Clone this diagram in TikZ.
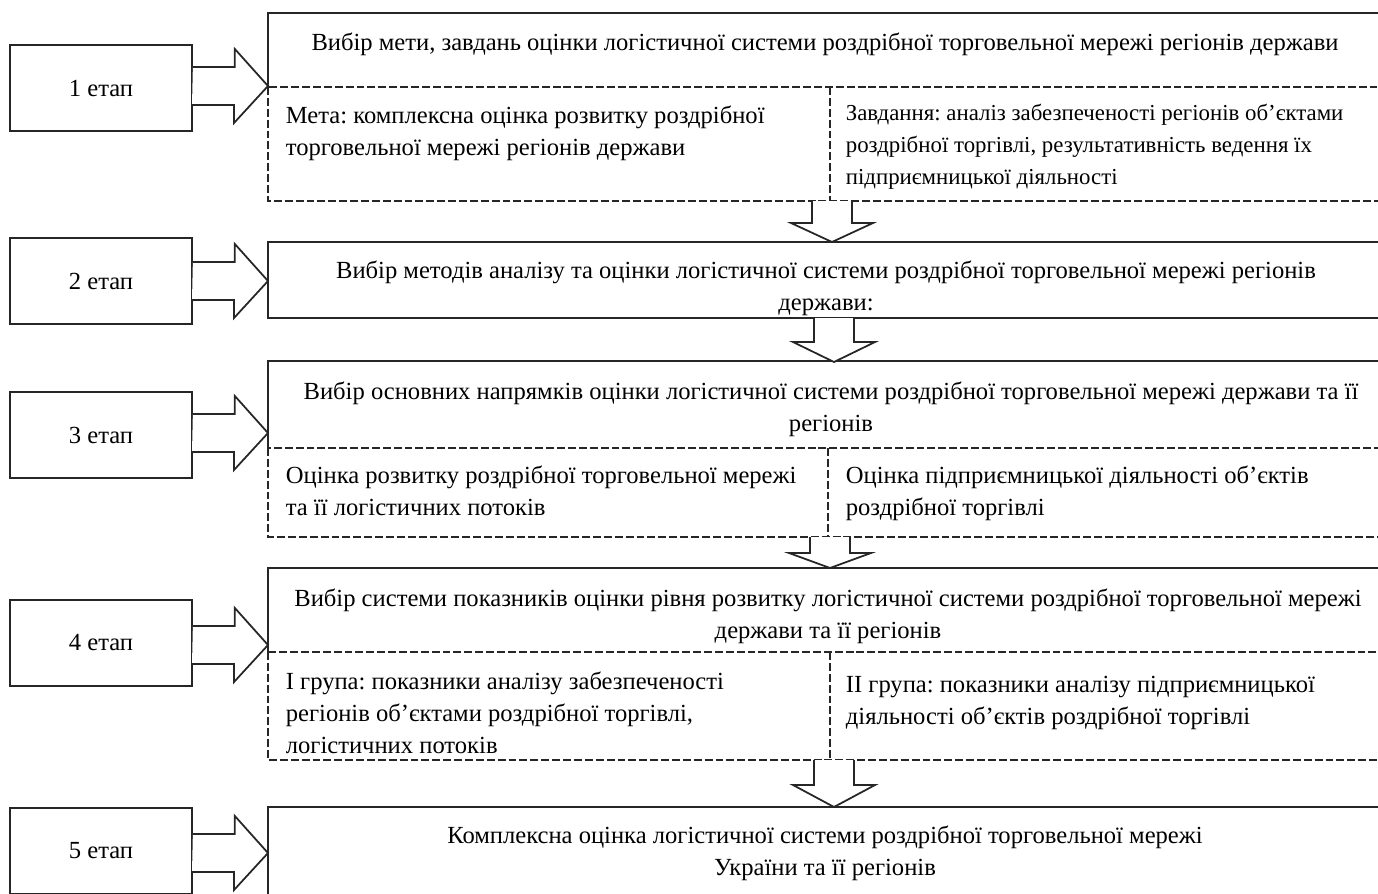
\documentclass[tikz,border=0pt]{standalone}
\usepackage{fontspec}
\setmainfont{Liberation Serif}
\usetikzlibrary{calc}
\frenchspacing

\begin{document}
\begin{tikzpicture}[x=0.02cm,y=-0.02cm,line width=1pt,draw=black!85,
  font=\fontsize{14}{18.2}\selectfont]
\tikzstyle{stage}=[draw,minimum width=3.64cm,minimum height=1.72cm,inner sep=0pt]
\tikzstyle{head}=[align=center,anchor=base,inner sep=0pt]
\tikzstyle{part}=[align=left,anchor=base west,inner sep=0pt]
\tikzstyle{cut}=[dash pattern=on 4.5pt off 1.7pt,line width=0.8pt]
\tikzstyle{block}=[fill=white,line join=miter]

\useasboundingbox (0,0) rectangle (1378,893);
\clip (0,0) rectangle (1378,893);

% stages
\node[stage] (S_1) at (101,88) {1 етап};
\node[stage] (S_2) at (101,281) {2 етап};
\node[stage] (S_3) at (101,435) {3 етап};
\node[stage] (S_4) at (101,643) {4 етап};
\node[stage] (S_5) at (101,851) {5 етап};

% 1 (base = last line)
\draw (268,87) -- (268,13) -- (1395,13) -- (1395,87);
\draw[cut] (268,87) rectangle (1395,201);
\draw[cut] (830,87) -- (830,201);
\node[head] (T_1) at (825,50) {Вибір мети, завдань оцінки логістичної системи роздрібної торговельної мережі регіонів держави};
\node[part] (M_1) at (285,155) {Мета: комплексна оцінка розвитку роздрібної\\торговельної мережі регіонів держави};
\node[part,font=\fontsize{13}{18.2}\selectfont] (Z_1) at (845,184) {Завдання: аналіз забезпеченості регіонів об’єктами\\роздрібної торгівлі, результативність ведення їх\\підприємницької діяльності};

% 2
\draw (268,242) rectangle (1395,318);
\node[head] (T_2) at (826,310) {Вибір методів аналізу та оцінки логістичної системи роздрібної торговельної мережі регіонів\\держави:};

% 3
\draw (268,448) -- (268,361) -- (1395,361) -- (1395,448);
\draw[cut] (268,448) rectangle (1395,537);
\draw[cut] (828,448) -- (828,537);
\node[head] (T_3) at (831,431) {Вибір основних напрямків оцінки логістичної системи роздрібної торговельної мережі держави та її\\регіонів};
\node[part] (L_3) at (285,515) {Оцінка розвитку роздрібної торговельної мережі\\та її логістичних потоків};
\node[part] (R_3) at (845,515) {Оцінка підприємницької діяльності об’єктів\\роздрібної торгівлі};

% 4
\draw (268,652) -- (268,568) -- (1395,568) -- (1395,652);
\draw[cut] (268,652) rectangle (1395,760);
\draw[cut] (830,652) -- (830,760);
\node[head] (T_4) at (828,638) {Вибір системи показників оцінки рівня розвитку логістичної системи роздрібної торговельної мережі\\держави та її регіонів};
\node[part] (L_4) at (285,753) {І група: показники аналізу забезпеченості\\регіонів об’єктами роздрібної торгівлі,\\логістичних потоків};
\node[part] (R_4) at (845,724) {ІІ група: показники аналізу підприємницької\\діяльності об’єктів роздрібної торгівлі};

% 5
\draw (268,807) rectangle (1395,900);
\node[head] (T_5) at (825,875) {Комплексна оцінка логістичної системи роздрібної торговельної мережі\\України та її регіонів};

% arrows stage -> box
\foreach \i/\y in {1/86,2/281,3/433,4/645,5/853}{
  \coordinate (A_\i) at (268,\y);
  \draw[block] (S_\i.east |- A_\i) ++(0,-19) -- ++(42,0) -- ++(0,-18) -- (A_\i)
    -- ++(-34,37) -- ++(0,-18) -- ++(-42,0);
}

% arrows box -> box
\foreach \i/\x/\top/\tip/\h in {1/832/201/242/19,2/834/318/362/20,3/830/537/568/15,4/834/760/807/22}{
  \coordinate (B_\i) at (\x,\top);
  \coordinate (E_\i) at (\x,\tip);
  \draw[block] ($(B_\i)+(-20,0)$) -- ($(E_\i)+(-20,-\h)$) -- ($(E_\i)+(-41,-\h)$) -- (E_\i)
    -- ($(E_\i)+(41,-\h)$) -- ($(E_\i)+(20,-\h)$) -- ($(B_\i)+(20,0)$);
}
\end{tikzpicture}
\end{document}
